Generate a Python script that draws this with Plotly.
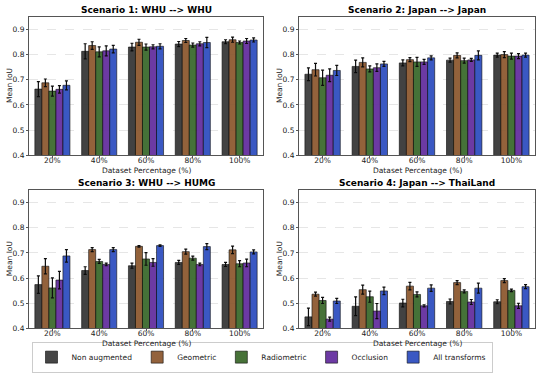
import plotly.graph_objects as go

categories = ["20%", "40%", "60%", "80%", "100%"]
methods = ["Non augmented", "Geometric", "Radiometric", "Occlusion", "All transforms"]
colors = ["#3d3d3d", "#8e5a32", "#3e6b2e", "#6630a0", "#3050c0"]

titles = ["Scenario 1: WHU --> WHU", "Scenario 2: Japan --> Japan",
          "Scenario 3: WHU --> HUMG", "Scenario 4: Japan --> ThaiLand"]

# values[scenario][method] over categories
s1_vals = [[0.663, 0.813, 0.830, 0.842, 0.851],
           [0.688, 0.836, 0.849, 0.856, 0.859],
           [0.655, 0.811, 0.830, 0.838, 0.848],
           [0.662, 0.815, 0.831, 0.843, 0.854],
           [0.678, 0.822, 0.833, 0.848, 0.858]]
s1_err = [[0.030, 0.030, 0.015, 0.010, 0.008],
          [0.015, 0.015, 0.012, 0.008, 0.010],
          [0.020, 0.020, 0.012, 0.008, 0.006],
          [0.015, 0.020, 0.008, 0.008, 0.010],
          [0.018, 0.015, 0.010, 0.020, 0.008]]

s2_vals = [[0.722, 0.753, 0.767, 0.778, 0.798],
           [0.740, 0.769, 0.780, 0.797, 0.800],
           [0.708, 0.743, 0.771, 0.776, 0.794],
           [0.718, 0.748, 0.771, 0.779, 0.794],
           [0.737, 0.763, 0.787, 0.797, 0.798]]
s2_err = [[0.025, 0.025, 0.012, 0.008, 0.008],
          [0.025, 0.018, 0.008, 0.010, 0.012],
          [0.030, 0.012, 0.018, 0.010, 0.012],
          [0.025, 0.015, 0.010, 0.006, 0.010],
          [0.020, 0.010, 0.008, 0.018, 0.008]]

s3_vals = [[0.574, 0.630, 0.649, 0.662, 0.654],
           [0.647, 0.713, 0.726, 0.705, 0.712],
           [0.561, 0.666, 0.676, 0.679, 0.657],
           [0.592, 0.654, 0.662, 0.654, 0.660],
           [0.688, 0.713, 0.729, 0.725, 0.704]]
s3_err = [[0.035, 0.015, 0.010, 0.008, 0.008],
          [0.030, 0.008, 0.003, 0.010, 0.015],
          [0.040, 0.008, 0.025, 0.008, 0.012],
          [0.035, 0.005, 0.015, 0.005, 0.015],
          [0.025, 0.008, 0.003, 0.012, 0.008]]

s4_vals = [[0.446, 0.488, 0.501, 0.507, 0.506],
           [0.536, 0.554, 0.568, 0.582, 0.590],
           [0.511, 0.526, 0.535, 0.547, 0.551],
           [0.437, 0.469, 0.490, 0.505, 0.490],
           [0.509, 0.549, 0.560, 0.560, 0.566]]
s4_err = [[0.035, 0.037, 0.015, 0.010, 0.008],
          [0.008, 0.018, 0.015, 0.008, 0.008],
          [0.012, 0.022, 0.010, 0.006, 0.005],
          [0.008, 0.030, 0.004, 0.010, 0.010],
          [0.010, 0.015, 0.013, 0.020, 0.008]]

all_vals = [s1_vals, s2_vals, s3_vals, s4_vals]
all_err = [s1_err, s2_err, s3_err, s4_err]

W, H = 550, 373
boxes = [(29, 263, 17, 157), (299, 535, 17, 157), (29, 263, 192, 332), (299, 535, 192, 332)]

FONT = "DejaVu Sans"
fig = go.Figure()
layout = dict(
    width=W, height=H, margin=dict(l=0, r=0, t=0, b=0),
    paper_bgcolor="white", plot_bgcolor="white",
    barmode="group", bargap=0.25, bargroupgap=0,
    font=dict(family=FONT, size=7.5, color="#222"),
    showlegend=True,
)
annotations = []
for i in range(4):
    xa = "x" if i == 0 else f"x{i+1}"
    ya = "y" if i == 0 else f"y{i+1}"
    for m in range(5):
        fig.add_trace(go.Bar(
            x=categories, y=all_vals[i][m], name=methods[m],
            marker=dict(color=colors[m], line=dict(color="black", width=0.6)),
            opacity=0.95,
            error_y=dict(type="data", array=all_err[i][m], color="black", thickness=1.2, width=1.5),
            xaxis=xa, yaxis=ya, legendgroup=methods[m], showlegend=(i == 0),
        ))
    x0, x1, y0, y1 = boxes[i]
    key = "" if i == 0 else str(i + 1)
    layout["xaxis" + key] = dict(
        domain=[x0 / W, x1 / W], anchor=ya, showline=True, linecolor="#555", linewidth=1,
        mirror=True, ticks="outside", ticklen=2, tickcolor="#555", ticklabelstandoff=-4,
        tickfont=dict(size=7.5, family=FONT),
        showgrid=False,
    )
    layout["yaxis" + key] = dict(
        domain=[1 - y1 / H, 1 - y0 / H], anchor=xa, range=[0.4, 0.95],
        showline=True, linecolor="#555", linewidth=1, mirror=True,
        ticks="outside", ticklen=2, tickcolor="#555", dtick=0.1, tick0=0.4,
        tickformat=".1f", tickfont=dict(size=7.5, family=FONT),
        showgrid=True, gridcolor="#e6e6e6", griddash="dash", gridwidth=0.8,
        zeroline=False,
    )
    annotations.append(dict(
        text="<b>" + titles[i] + "</b>", x=(x0 + x1) / 2 / W, y=1 - (y0 - 7) / H,
        xref="paper", yref="paper", showarrow=False, xanchor="center", yanchor="middle",
        font=dict(size=9, family=FONT, color="black"),
    ))
    annotations.append(dict(
        text="Dataset Percentage (%)", x=(x0 + x1) / 2 / W, y=1 - (y1 + 15) / H,
        xref="paper", yref="paper", showarrow=False, xanchor="center", yanchor="middle",
        font=dict(size=7.5, family=FONT, color="#222"),
    ))
    annotations.append(dict(
        text="Mean IoU", x=(x0 - 20) / W, y=1 - (y0 + y1) / 2 / H, textangle=-90,
        xref="paper", yref="paper", showarrow=False, xanchor="center", yanchor="middle",
        font=dict(size=7.5, family=FONT, color="#222"),
    ))
layout["annotations"] = annotations
layout["legend"] = dict(
    orientation="h", x=262 / W, xanchor="center", y=1 - 361 / H, yanchor="middle",
    bordercolor="#cccccc", borderwidth=1, font=dict(size=7.5, family=FONT),
    itemwidth=30, tracegroupgap=0,
)
fig.update_layout(**layout)
fig.write_html("out.html", config={"displayModeBar": False},
               post_script="document.body.style.margin='0';")
